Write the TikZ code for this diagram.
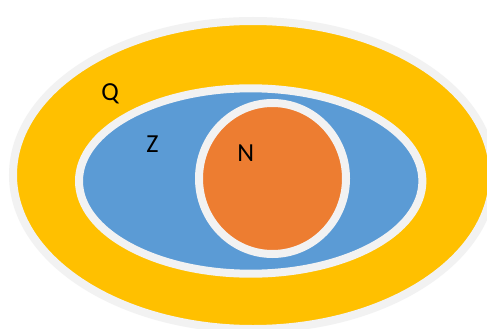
\documentclass[tikz,border=0pt]{standalone}
\usepackage{fontspec}
\setmainfont{Carlito}
\definecolor{qyellow}{HTML}{FFC000}
\definecolor{zblue}{HTML}{5B9BD5}
\definecolor{norange}{HTML}{ED7D31}
\definecolor{rimgray}{HTML}{F2F2F2}
\begin{document}
\begin{tikzpicture}[x=1pt,y=-1pt,
  setshape/.style={draw=rimgray,line width=8pt},
  setlabel/.style={font=\fontsize{26}{26}\selectfont,text=black,inner sep=0pt}]
\useasboundingbox (0,0) rectangle (487,329);
\fill[white] (0,0) rectangle (487,329);
\path[setshape,fill=qyellow] (253,175) ellipse [x radius=240,y radius=154];
\path[setshape,fill=zblue] (250.7,181) ellipse [x radius=171.7,y radius=92.7];
\path[setshape,fill=norange] (272.5,178.5) ellipse [x radius=73.5,y radius=75.5];
\node[setlabel] (q) at (110,93.5) {Q};
\node[setlabel] (z) at (152.5,144.5) {Z};
\node[setlabel] (n) at (245.8,153) {N};
\end{tikzpicture}
\end{document}
